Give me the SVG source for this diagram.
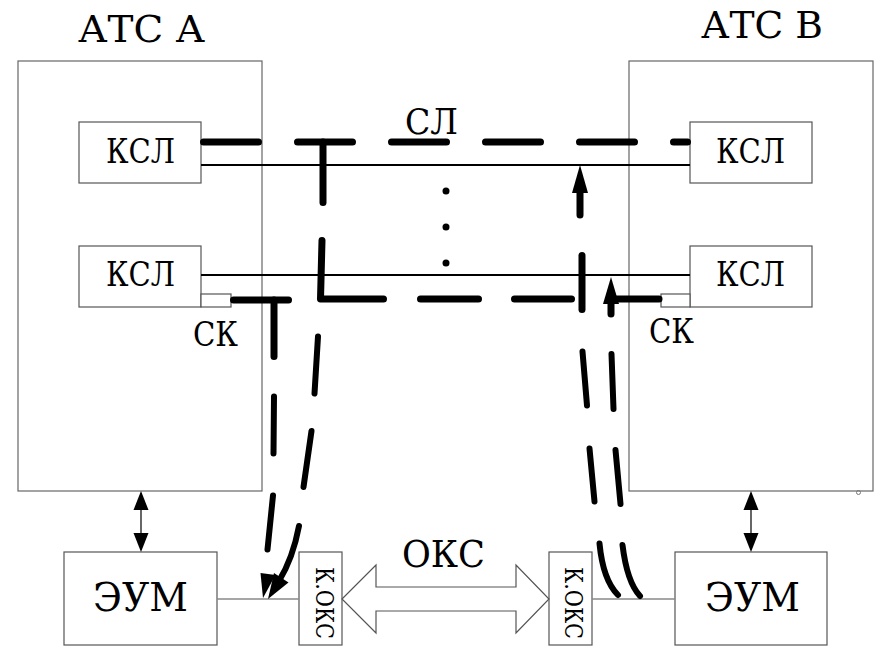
<svg xmlns="http://www.w3.org/2000/svg" width="878" height="646" viewBox="0 0 878 646">
<style>
.t{font-family:'DejaVu Serif','Liberation Serif',serif;fill:#000}
.box{fill:#fff;stroke:#555;stroke-width:1.2}
.big{fill:none;stroke:#666;stroke-width:1.2}
.thin{stroke:#000;stroke-width:2;fill:none}
.gray{stroke:#888;stroke-width:1.5;fill:none}
.dash{stroke:#000;stroke-width:7;stroke-linecap:round;stroke-linejoin:round;fill:none}
.cur{stroke:#000;stroke-width:6;stroke-linecap:round;fill:none}
.head{fill:#000;stroke:none}
</style>
<g id="atc-a">
<rect class="big" x="18" y="61" width="244" height="430"/>
<text class="t" x="78" y="42" font-size="37" textLength="127" lengthAdjust="spacingAndGlyphs">АТС А</text>
</g>
<g id="atc-b">
<rect class="big" x="629" y="61" width="244" height="430"/>
<text class="t" x="701" y="38" font-size="37" textLength="122" lengthAdjust="spacingAndGlyphs">АТС В</text>
<ellipse cx="858.5" cy="492.5" rx="2" ry="2" fill="none" stroke="#777" stroke-width="1"/>
</g>
<g id="ksl-a1"><rect class="box" x="79" y="122" width="122" height="61"/><text class="t" x="106" y="163" font-size="33" textLength="69" lengthAdjust="spacingAndGlyphs">КСЛ</text></g>
<g id="ksl-a2"><rect class="box" x="79" y="246" width="122" height="61"/><rect class="box" x="201" y="294" width="30" height="13"/><text class="t" x="106" y="286" font-size="33" textLength="69" lengthAdjust="spacingAndGlyphs">КСЛ</text></g>
<g id="ksl-b1"><rect class="box" x="690" y="122" width="122" height="61"/><text class="t" x="716" y="163" font-size="33" textLength="69" lengthAdjust="spacingAndGlyphs">КСЛ</text></g>
<g id="ksl-b2"><rect class="box" x="690" y="246" width="122" height="61"/><rect class="box" x="661" y="294" width="29" height="13"/><text class="t" x="716" y="286" font-size="33" textLength="69" lengthAdjust="spacingAndGlyphs">КСЛ</text></g>
<g id="eum-a"><rect class="box" x="64" y="552" width="153" height="93"/><text class="t" x="93" y="611" font-size="40" textLength="95" lengthAdjust="spacingAndGlyphs">ЭУМ</text></g>
<g id="eum-b"><rect class="box" x="675" y="552" width="152" height="93"/><text class="t" x="705" y="611" font-size="40" textLength="95" lengthAdjust="spacingAndGlyphs">ЭУМ</text></g>
<g id="koks-a"><rect class="box" x="299" y="552" width="43" height="93"/><text class="t" transform="translate(316,567) rotate(90)" font-size="25" textLength="72" lengthAdjust="spacingAndGlyphs">К.ОКС</text></g>
<g id="koks-b"><rect class="box" x="549" y="552" width="43" height="93"/><text class="t" transform="translate(565,567) rotate(90)" font-size="25" textLength="72" lengthAdjust="spacingAndGlyphs">К.ОКС</text></g>
<g id="labels">
<text class="t" x="405" y="134" font-size="36" textLength="53" lengthAdjust="spacingAndGlyphs">СЛ</text>
<text class="t" x="193" y="346" font-size="34" textLength="45" lengthAdjust="spacingAndGlyphs">СК</text>
<text class="t" x="649" y="343" font-size="34" textLength="45" lengthAdjust="spacingAndGlyphs">СК</text>
<text class="t" x="402" y="567" font-size="38" textLength="83" lengthAdjust="spacingAndGlyphs">ОКС</text>
</g>
<g id="connectors">
<line class="thin" x1="201" y1="165" x2="690" y2="165"/>
<line class="thin" x1="201" y1="275" x2="690" y2="275"/>
<circle cx="446" cy="191" r="3.5"/><circle cx="446" cy="227" r="3.5"/><circle cx="446" cy="263" r="3.5"/>
<line class="gray" x1="217" y1="599" x2="299" y2="599"/>
<line class="gray" x1="592" y1="599" x2="675" y2="599"/>
<polygon points="342,599 376,565 376,587 516,587 516,565 549,599 516,633 516,611 376,611 376,633" fill="#fff" stroke="#555" stroke-width="1.2"/>
<line x1="141" y1="505" x2="141" y2="538" stroke="#000" stroke-width="1.2"/>
<polygon class="head" points="141,491 133.5,510 148.5,510"/>
<polygon class="head" points="141,552 133.5,533 148.5,533"/>
<line x1="751" y1="505" x2="751" y2="538" stroke="#000" stroke-width="1.2"/>
<polygon class="head" points="751,491 743.5,510 758.5,510"/>
<polygon class="head" points="751,552 743.5,533 758.5,533"/>
<line class="dash" x1="203.5" y1="142" x2="687.5" y2="142" stroke-dasharray="55 39"/>
<line class="dash" x1="323" y1="142" x2="323" y2="202.5"/>
<polyline class="dash" points="322,240.5 320.5,299 383.5,299"/>
<line class="dash" x1="420.5" y1="299" x2="478.5" y2="299"/>
<line class="dash" x1="514.5" y1="299" x2="571.5" y2="299"/>
<line class="dash" x1="233.5" y1="300" x2="288.5" y2="300"/>
<line class="dash" x1="274" y1="300" x2="274" y2="356.5"/>
<line class="cur" x1="274" y1="396.5" x2="273.5" y2="453.5"/>
<line class="cur" x1="273" y1="495.5" x2="267.5" y2="549.5"/>
<polygon class="head" points="263,598 260.5,573 275.5,575"/>
<line class="cur" x1="318" y1="336.5" x2="314.5" y2="393.5"/>
<line class="cur" x1="311.5" y1="431" x2="303.5" y2="487"/>
<path class="cur" d="M299,526 Q293,558 279,581"/>
<polygon class="head" points="268,599 274,573 288.5,582.5"/>
<line class="dash" x1="580" y1="190" x2="580" y2="215"/>
<polygon class="head" points="580,165 572,193 588,193"/>
<line class="dash" x1="582" y1="255.5" x2="582" y2="309.5"/>
<line class="cur" x1="582.5" y1="351.5" x2="587" y2="405.5"/>
<line class="cur" x1="589.5" y1="448.5" x2="594.5" y2="501.5"/>
<path class="cur" d="M599.5,543.5 Q603,580 618,595"/>
<polyline class="dash" points="659,299 611,299"/>
<line class="dash" x1="611" y1="300" x2="611" y2="314"/>
<polygon class="head" points="611,277 603,304 619,304"/>
<line class="cur" x1="611.5" y1="354" x2="613.5" y2="409"/>
<line class="cur" x1="615.5" y1="450" x2="620.5" y2="504"/>
<path class="cur" d="M622.5,545 Q627,582 640,596"/>
</g>
</svg>
